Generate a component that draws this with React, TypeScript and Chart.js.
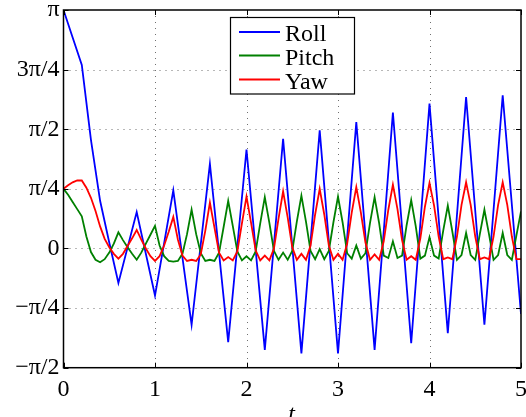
import React, { useEffect, useRef } from 'react';
import { Chart, registerables } from 'chart.js';

Chart.register(...registerables);

// Angles are stored in units of pi/4 (the y ticks are multiples of pi/4)
const QUARTER_PI = Math.PI / 4;

const seriesNames = ['Roll', 'Pitch', 'Yaw'];
const seriesColors = ['#0000ff', '#008000', '#ff0000'];

const xTickValues = [0, 1, 2, 3, 4, 5];
const yTickQuarterPi = [-2, -1, 0, 1, 2, 3, 4];
const yTickLabels = ['\u2212\u03c0/2', '\u2212\u03c0/4', '0', '\u03c0/4', '\u03c0/2', '3\u03c0/4', '\u03c0'];

const rollTimes = [0, 0.1, 0.2, 0.3, 0.4, 0.5, 0.6, 0.8, 1.0, 1.2, 1.4, 1.6, 1.8, 2.0, 2.2, 2.4, 2.6, 2.8, 3.0, 3.2, 3.4, 3.6, 3.8, 4.0, 4.2, 4.4, 4.6, 4.8, 5.0];
const rollQuarterPi = [4, 3.54, 3.08, 1.82, 0.8, 0.1, -0.58, 0.61, -0.79, 0.975, -1.28, 1.42, -1.57, 1.66, -1.7, 1.84, -1.76, 1.98, -1.76, 2.12, -1.7, 2.28, -1.59, 2.43, -1.42, 2.54, -1.28, 2.57, -1.1];

const sampleTimes = [
  0, 0.05, 0.1, 0.15, 0.2, 0.25, 0.3, 0.35, 0.4, 0.45,
  0.5, 0.55, 0.6, 0.65, 0.7, 0.75, 0.8, 0.85, 0.9, 0.95,
  1.0, 1.05, 1.1, 1.15, 1.2, 1.25, 1.3, 1.35, 1.4, 1.45,
  1.5, 1.55, 1.6, 1.65, 1.7, 1.75, 1.8, 1.85, 1.9, 1.95,
  2.0, 2.05, 2.1, 2.15, 2.2, 2.25, 2.3, 2.35, 2.4, 2.45,
  2.5, 2.55, 2.6, 2.65, 2.7, 2.75, 2.8, 2.85, 2.9, 2.95,
  3.0, 3.05, 3.1, 3.15, 3.2, 3.25, 3.3, 3.35, 3.4, 3.45,
  3.5, 3.55, 3.6, 3.65, 3.7, 3.75, 3.8, 3.85, 3.9, 3.95,
  4.0, 4.05, 4.1, 4.15, 4.2, 4.25, 4.3, 4.35, 4.4, 4.45,
  4.5, 4.55, 4.6, 4.65, 4.7, 4.75, 4.8, 4.85, 4.9, 4.95,
  5.0,
];

const pitchQuarterPi = [
  1.0, 0.9, 0.78, 0.66, 0.54, 0.2, -0.06, -0.19, -0.23, -0.18,
  -0.07, 0.08, 0.27, 0.14, 0.02, -0.09, -0.19, -0.07, 0.08, 0.23,
  0.38, 0.05, -0.13, -0.21, -0.22, -0.21, -0.09, 0.24, 0.65, 0.24,
  -0.08, -0.21, -0.19, -0.21, -0.07, 0.36, 0.8, 0.38, -0.05, -0.2,
  -0.13, -0.2, -0.05, 0.42, 0.86, 0.43, -0.04, -0.19, -0.07, -0.19,
  -0.04, 0.45, 0.885, 0.45, -0.04, -0.18, -0.01, -0.18, -0.04, 0.44,
  0.87, 0.44, -0.08, -0.17, 0.05, -0.17, -0.08, 0.43, 0.86, 0.42,
  -0.12, -0.16, 0.12, -0.16, -0.12, 0.39, 0.81, 0.37, -0.17, -0.12,
  0.19, -0.12, -0.17, 0.3, 0.72, 0.28, -0.19, -0.11, 0.26, -0.11,
  -0.19, 0.24, 0.65, 0.24, -0.19, -0.11, 0.26, -0.11, -0.19, 0.22,
  0.62,
];

const yawQuarterPi = [
  1.0, 1.06, 1.11, 1.14, 1.14, 1.02, 0.85, 0.63, 0.37, 0.16,
  0.02, -0.09, -0.17, -0.09, 0.04, 0.17, 0.31, 0.15, 0.0, -0.13,
  -0.21, -0.13, 0.05, 0.28, 0.53, 0.15, -0.12, -0.21, -0.19, -0.21,
  -0.1, 0.3, 0.77, 0.35, -0.07, -0.2, -0.145, -0.2, -0.05, 0.42,
  0.87, 0.43, -0.03, -0.2, -0.12, -0.2, 0.0, 0.5, 0.96, 0.52,
  0.02, -0.19, -0.09, -0.19, 0.05, 0.57, 1.0, 0.57, 0.05, -0.19,
  -0.09, -0.19, 0.08, 0.6, 1.03, 0.6, 0.1, -0.19, -0.1, -0.19,
  0.12, 0.65, 1.07, 0.66, 0.14, -0.19, -0.13, -0.19, 0.17, 0.7,
  1.1, 0.72, 0.2, -0.18, -0.15, -0.18, 0.2, 0.73, 1.11, 0.73,
  0.2, -0.18, -0.15, -0.18, 0.2, 0.73, 1.11, 0.73, 0.2, -0.18,
  -0.18,
];

const FONT = '"Liberation Serif", "Times New Roman", serif';

const toPoints = (times: number[], vals: number[]) =>
  times.map((t, i) => ({ x: t, y: vals[i] * QUARTER_PI }));

const framePlugin = {
  id: 'frame',
  beforeDatasetsDraw(chart: any) {
    const { ctx, chartArea: a, scales } = chart;
    const xs = scales.x;
    const ys = scales.y;
    ctx.save();
    ctx.strokeStyle = '#707070';
    ctx.lineWidth = 1;
    ctx.setLineDash([1, 5]);
    for (const v of xTickValues) {
      const px = Math.round(xs.getPixelForValue(v)) + 0.5;
      if (px <= a.left + 1 || px >= a.right - 1) continue;
      ctx.beginPath();
      ctx.moveTo(px, a.top);
      ctx.lineTo(px, a.bottom);
      ctx.stroke();
    }
    for (const k of yTickQuarterPi) {
      const py = Math.round(ys.getPixelForValue(k * QUARTER_PI)) + 0.5;
      if (py <= a.top + 1 || py >= a.bottom - 1) continue;
      ctx.beginPath();
      ctx.moveTo(a.left, py);
      ctx.lineTo(a.right, py);
      ctx.stroke();
    }
    ctx.restore();
  },
  afterDatasetsDraw(chart: any) {
    const { ctx, chartArea: a, scales } = chart;
    const xs = scales.x;
    const ys = scales.y;
    ctx.save();
    // inward tick marks
    ctx.strokeStyle = '#000';
    ctx.lineWidth = 1;
    const tl = 5;
    for (const v of xTickValues) {
      const px = Math.round(xs.getPixelForValue(v)) + 0.5;
      ctx.beginPath();
      ctx.moveTo(px, a.bottom);
      ctx.lineTo(px, a.bottom - tl);
      ctx.moveTo(px, a.top);
      ctx.lineTo(px, a.top + tl);
      ctx.stroke();
    }
    for (const k of yTickQuarterPi) {
      const py = Math.round(ys.getPixelForValue(k * QUARTER_PI)) + 0.5;
      ctx.beginPath();
      ctx.moveTo(a.left, py);
      ctx.lineTo(a.left + tl, py);
      ctx.moveTo(a.right, py);
      ctx.lineTo(a.right - tl, py);
      ctx.stroke();
    }
    // axes box
    ctx.lineWidth = 1.5;
    ctx.strokeRect(a.left, a.top, a.right - a.left, a.bottom - a.top);

    // legend
    const lx = 230.5, ly = 17.5, lw = 124, lh = 76.5;
    ctx.fillStyle = '#fff';
    ctx.fillRect(lx, ly, lw, lh);
    ctx.lineWidth = 1.2;
    ctx.strokeStyle = '#000';
    ctx.strokeRect(lx, ly, lw, lh);
    const rows = [32, 55.5, 79.5];
    ctx.font = `24px ${FONT}`;
    ctx.textAlign = 'left';
    ctx.textBaseline = 'alphabetic';
    seriesNames.forEach((name, i) => {
      ctx.strokeStyle = seriesColors[i];
      ctx.lineWidth = 1.8;
      ctx.beginPath();
      ctx.moveTo(239, rows[i]);
      ctx.lineTo(280, rows[i]);
      ctx.stroke();
      ctx.fillStyle = '#000';
      ctx.fillText(name, 285, rows[i] + 9);
    });

    // x axis label
    ctx.font = `italic 24px ${FONT}`;
    ctx.textAlign = 'center';
    ctx.fillStyle = '#000';
    ctx.fillText('t', 291.5, 421);
    ctx.restore();
  },
};

export default function App() {
  const canvasRef = useRef<HTMLCanvasElement | null>(null);

  useEffect(() => {
    const canvas = canvasRef.current;
    if (!canvas) return;
    const valueSets = [
      toPoints(rollTimes, rollQuarterPi),
      toPoints(sampleTimes, pitchQuarterPi),
      toPoints(sampleTimes, yawQuarterPi),
    ];
    const chart = new Chart(canvas, {
      type: 'line',
      data: {
        datasets: seriesNames.map((name, i) => ({
          label: name,
          data: valueSets[i],
          borderColor: seriesColors[i],
          backgroundColor: seriesColors[i],
          borderWidth: 1.8,
          pointRadius: 0,
          tension: 0,
          fill: false,
          order: 2 - i,
        })),
      },
      options: {
        responsive: false,
        animation: false,
        devicePixelRatio: 1,
        layout: { padding: { top: 10, right: 5, bottom: 0, left: 0 } },
        plugins: {
          legend: { display: false },
          tooltip: { enabled: false },
        },
        scales: {
          x: {
            type: 'linear',
            min: 0,
            max: 5,
            grid: { display: false, drawTicks: false },
            border: { display: false },
            afterBuildTicks: (s: any) => {
              s.ticks = xTickValues.map((v) => ({ value: v }));
            },
            afterFit: (s: any) => {
              s.height = 49.3;
              s.paddingLeft = 0;
              s.paddingRight = 0;
            },
            ticks: {
              color: '#000',
              font: { family: FONT, size: 24 },
              padding: 8,
              maxRotation: 0,
              autoSkip: false,
              callback: (v: any) => String(v),
            },
          },
          y: {
            type: 'linear',
            min: -2 * QUARTER_PI,
            max: 4 * QUARTER_PI,
            grid: { display: false, drawTicks: false },
            border: { display: false },
            afterBuildTicks: (s: any) => {
              s.ticks = yTickQuarterPi.map((k) => ({ value: k * QUARTER_PI }));
            },
            afterFit: (s: any) => {
              s.width = 63.5;
              s.paddingTop = 0;
              s.paddingBottom = 0;
            },
            ticks: {
              color: '#000',
              font: { family: FONT, size: 24 },
              padding: 4,
              autoSkip: false,
              callback: (_v: any, idx: number) => yTickLabels[idx],
            },
          },
        },
      },
      plugins: [framePlugin],
    });
    return () => chart.destroy();
  }, []);

  return (
    <div style={{ position: 'fixed', left: 0, top: 0, width: 526, height: 417, background: '#fff' }}>
      <canvas ref={canvasRef} width={526} height={417} style={{ display: 'block' }} />
    </div>
  );
}
